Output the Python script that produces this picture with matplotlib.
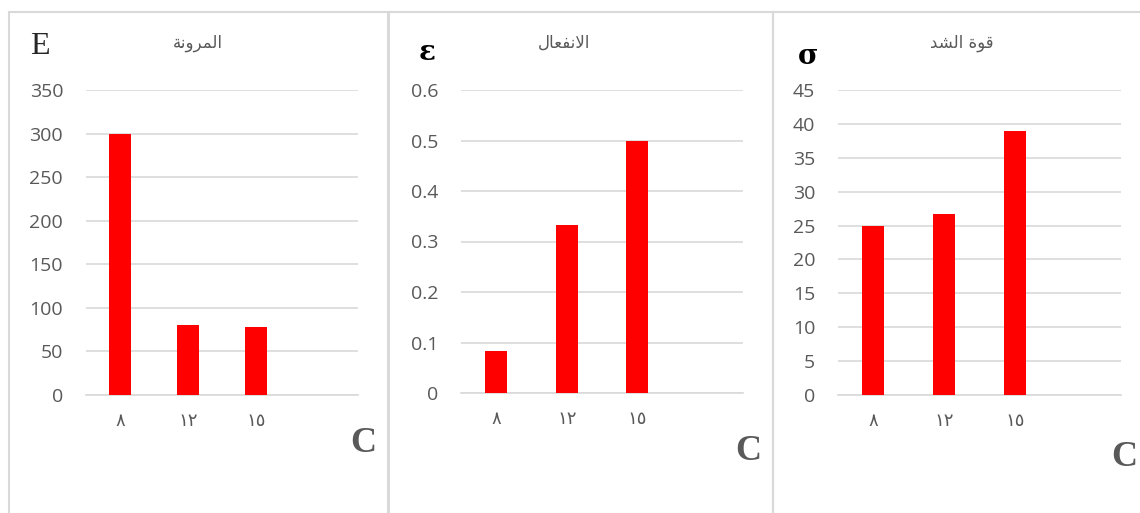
import matplotlib
matplotlib.use("Agg")
import matplotlib.pyplot as plt
from matplotlib.patches import Rectangle

# data
categories = ["٨", "١٢", "١٥", ""]
elasticity = [300, 80, 78, None]
strain = [0.083, 0.333, 0.5, None]
tensile = [25, 26.7, 39, None]

titles = ["المرونة", "الانفعال", "قوة الشد"]
symbols = ["E", "ε", "σ"]
yticks = [list(range(0, 351, 50)),
          [0, 0.1, 0.2, 0.3, 0.4, 0.5, 0.6],
          list(range(0, 46, 5))]

# minimal arabic shaping (matplotlib draws no contextual forms, no RTL)
DUAL = {"ل": 0xFEDD, "م": 0xFEE1, "ن": 0xFEE5, "ف": 0xFED1,
        "ع": 0xFEC9, "ق": 0xFED5, "ش": 0xFEB5}
RIGHT = {"ا": 0xFE8D, "ر": 0xFEAD, "و": 0xFEED, "ة": 0xFE93, "د": 0xFEA9}


def shape(word):
    out = []
    i = 0
    n = len(word)
    while i < n:
        c = word[i]
        prev = word[i - 1] if i > 0 else " "
        nxt = word[i + 1] if i + 1 < n else " "
        r = prev in DUAL
        if c == "ل" and nxt == "ا":
            out.append(chr(0xFEFC if r else 0xFEFB))
            i += 2
            continue
        if c in DUAL:
            l = nxt in DUAL or nxt in RIGHT
            out.append(chr(DUAL[c] + (3 if r and l else 1 if r else 2 if l else 0)))
        elif c in RIGHT:
            out.append(chr(RIGHT[c] + (1 if r else 0)))
        else:
            out.append(c)
        i += 1
    return "".join(reversed(out))


W, H = 1140, 513
fig = plt.figure(figsize=(W / 100, H / 100), dpi=100)
fig.patch.set_facecolor("white")

grey = "#595959"
grid = "#d9d9d9"

# panel frames (x0, x1) in px
frames = [(9, 388), (389, 773), (773, 1160)]
for x0, x1 in frames:
    fig.add_artist(Rectangle((x0 / W, -0.1), (x1 - x0) / W, 1.1 - 12 / H,
                             transform=fig.transFigure, fill=False,
                             edgecolor=grid, lw=1.5))

# plot areas in px: left, right, top, bottom
areas = [(86, 358, 90, 395), (461, 743, 90, 393), (838, 1121, 90, 395)]
series = [elasticity, strain, tensile]
title_x = [198, 564, 962]
sym_pos = [(40, 46), (427, 52), (808, 57)]
sym_style = [dict(family="Liberation Serif", size=23, color="#262626"),
             dict(family="DejaVu Serif", size=20, color="black", weight="bold"),
             dict(family="DejaVu Serif", size=20, color="black", weight="bold")]
c_pos = [(363, 443), (748, 452), (1124, 457)]

for k in range(3):
    l, r, t, b = areas[k]
    ax = fig.add_axes([l / W, 1 - b / H, (r - l) / W, (b - t) / H])
    vals = [v if v is not None else 0 for v in series[k]]
    ax.bar(range(len(categories)), vals, width=0.31, color="#ff0000", zorder=3)
    ax.set_xlim(-0.5, len(categories) - 0.5)
    ax.set_ylim(yticks[k][0], yticks[k][-1])
    ax.set_yticks(yticks[k])
    ax.set_yticklabels([f"{v:g}" for v in yticks[k]], family="Open Sans",
                       fontsize=14, color=grey)
    ax.set_xticks(range(len(categories)))
    ax.set_xticklabels(categories, family="DejaVu Sans", fontsize=13, color=grey)
    ax.tick_params(length=0)
    ax.tick_params(axis="y", pad=16.5)
    ax.tick_params(axis="x", pad=12)
    ax.grid(axis="y", color=grid, lw=1.2, zorder=0)
    for s in ["top", "right", "left"]:
        ax.spines[s].set_visible(False)
    ax.spines["bottom"].set_color(grid)
    ax.spines["bottom"].set_linewidth(1.2)

    fig.text(title_x[k] / W, 1 - 43 / H, shape(titles[k]), ha="center", va="center",
             family="DejaVu Sans", fontsize=12, color=grey)
    sx, sy = sym_pos[k]
    fig.text(sx / W, 1 - sy / H, symbols[k], ha="center", va="center", **sym_style[k])
    px, py = c_pos[k]
    fig.text(px / W, 1 - py / H, "C", ha="center", va="center",
             family="Liberation Serif", weight="bold", fontsize=26, color=grey)

fig.savefig("out.png", dpi=100)
